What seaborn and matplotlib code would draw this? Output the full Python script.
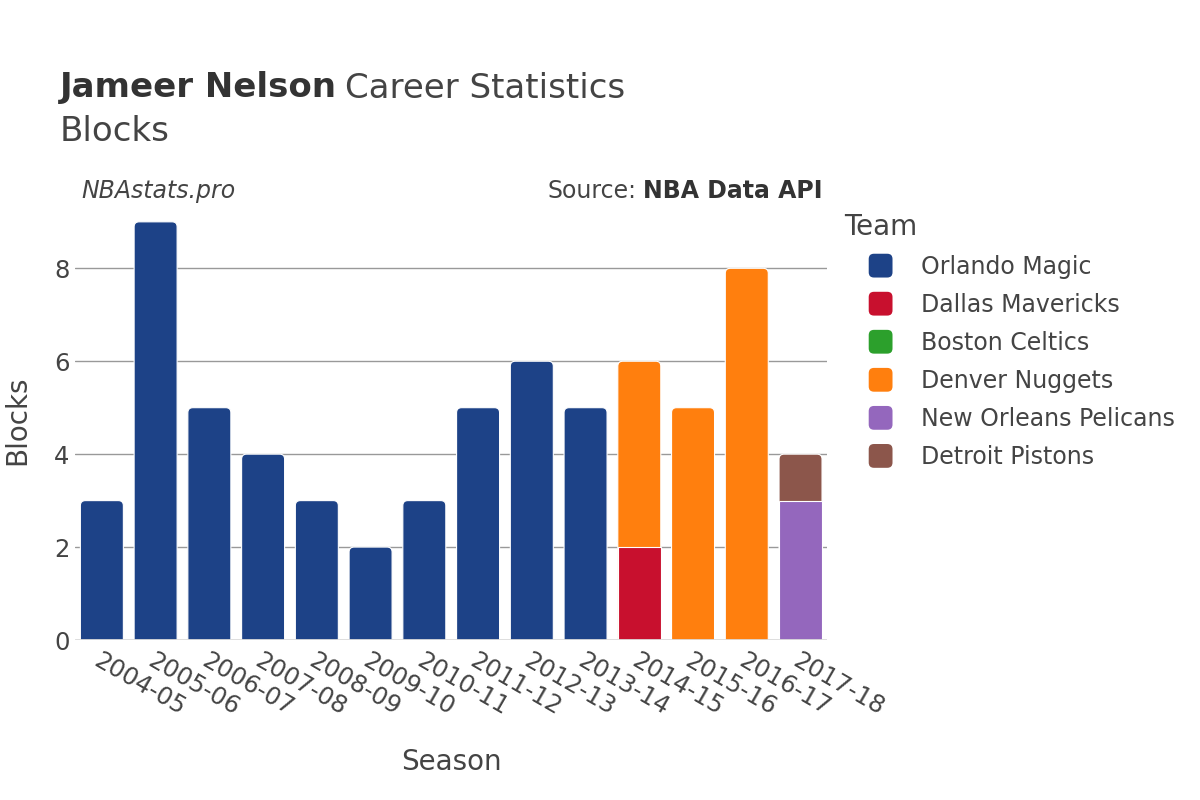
import pandas as pd
import matplotlib.pyplot as plt
import seaborn as sns
from matplotlib.patches import Patch, FancyBboxPatch
from matplotlib.legend_handler import HandlerPatch

seasons = ["2004-05", "2005-06", "2006-07", "2007-08", "2008-09", "2009-10", "2010-11",
           "2011-12", "2012-13", "2013-14", "2014-15", "2015-16", "2016-17", "2017-18"]
teams = ["Orlando Magic", "Dallas Mavericks", "Boston Celtics", "Denver Nuggets",
         "New Orleans Pelicans", "Detroit Pistons"]
team_colors = ["#1d4287", "#c8102e", "#2ca02c", "#ff7f0e", "#9467bd", "#8c564b"]

row_season = ["2004-05", "2005-06", "2006-07", "2007-08", "2008-09", "2009-10", "2010-11",
              "2011-12", "2012-13", "2013-14", "2014-15", "2014-15", "2014-15",
              "2015-16", "2016-17", "2017-18", "2017-18"]
row_team = ["Orlando Magic"] * 10 + ["Dallas Mavericks", "Boston Celtics", "Denver Nuggets",
            "Denver Nuggets", "Denver Nuggets", "New Orleans Pelicans", "Detroit Pistons"]
row_blocks = [3, 9, 5, 4, 3, 2, 3, 5, 6, 5, 2, 0, 4, 5, 8, 3, 1]

df = pd.DataFrame({"season": row_season, "team": row_team, "blocks": row_blocks})
df["team_rank"] = df["team"].map({t: i for i, t in enumerate(teams)})
df = df.sort_values(["season", "team_rank"])
df["top"] = df.groupby("season")["blocks"].cumsum()

sns.set_style("white")
plt.rcParams["font.family"] = ["DejaVu Sans"]
text_color = "#444444"

fig = plt.figure(figsize=(12, 8), dpi=100)
ax = fig.add_axes([0.0625, 0.2, 0.627, 0.55])

# draw the stack from the top segment down so the lower segments paint over
for team, color in reversed(list(zip(teams, team_colors))):
    sub = df[(df["team"] == team) & (df["blocks"] > 0)]
    if sub.empty:
        continue
    sns.barplot(data=sub, x="season", y="top", order=seasons, color=color,
                saturation=1, width=0.8, edgecolor="white", linewidth=0.8,
                errorbar=None, ax=ax, zorder=3)

ax.set_ylim(0, 9.47)
ax.set_xlim(-0.5, len(seasons) - 0.5)

# round the top corners of the highest segment in each stack
tallest = {}
for p in ax.patches:
    key = round(p.get_x() + p.get_width() / 2, 2)
    if key not in tallest or p.get_height() > tallest[key].get_height():
        tallest[key] = p
px_x = 0.627 * 1200 / len(seasons)
px_y = 0.55 * 800 / 9.47
for p in tallest.values():
    r = 5 / px_x
    fb = FancyBboxPatch((p.get_x(), -0.5), p.get_width(), p.get_height() + 0.5,
                        boxstyle=f"round,pad=0,rounding_size={r}",
                        mutation_aspect=px_x / px_y,
                        facecolor=p.get_facecolor(), edgecolor="white", linewidth=0.8)
    p.remove()
    ax.add_patch(fb)
    fb.set_zorder(2.9)

ax.set_yticks([0, 2, 4, 6, 8])
ax.yaxis.grid(True, color="#999999", linewidth=1)
ax.set_axisbelow(True)
ax.axhline(0, color="#dddddd", linewidth=2, zorder=3.5)
for s in ax.spines.values():
    s.set_visible(False)
ax.tick_params(axis="both", length=0, labelsize=17.5, colors=text_color)
ax.tick_params(axis="y", pad=4)
ax.tick_params(axis="x", pad=6)
plt.setp(ax.get_xticklabels(), rotation=-30, ha="left", rotation_mode="anchor")
ax.set_xlabel("Season", fontsize=20, color=text_color, labelpad=20)
ax.set_ylabel("Blocks", fontsize=20, color=text_color, labelpad=16)

fig.canvas.draw()
renderer = fig.canvas.get_renderer()


def right_of(t, gap_px=0):
    bb = t.get_window_extent(renderer)
    return (bb.x1 + gap_px) / fig.bbox.width


t1 = fig.text(0.05, 0.89, "Jameer Nelson", fontsize=24.5, fontweight="bold", color="#333333", va="center")
fig.text(right_of(t1, 8), 0.89, "Career Statistics", fontsize=24.5, color=text_color, va="center")
fig.text(0.05, 0.836, "Blocks", fontsize=24.5, color=text_color, va="center")
fig.text(0.068, 0.761, "NBAstats.pro", fontsize=17, style="italic", color=text_color, va="center")
s1 = fig.text(0.685, 0.761, "NBA Data API", fontsize=17, fontweight="bold", color="#333333",
              va="center", ha="right")
bb = s1.get_window_extent(renderer)
fig.text((bb.x0 - 6) / fig.bbox.width, 0.761, "Source:", fontsize=17, color=text_color,
         va="center", ha="right")


class RoundHandler(HandlerPatch):
    def create_artists(self, legend, orig_handle, xdescent, ydescent, width, height, fontsize, trans):
        size = height * 1.05
        box = FancyBboxPatch((-xdescent + (width - size) / 2, -ydescent + (height - size) / 2),
                             size, size, boxstyle=f"round,pad=0,rounding_size={size * 0.22}",
                             facecolor=orig_handle.get_facecolor(), edgecolor="none",
                             transform=trans)
        return [box]


handles = [Patch(facecolor=c, edgecolor=c, label=t) for t, c in zip(teams, team_colors)]
leg = fig.legend(handles=handles, title="Team", loc="upper left", bbox_to_anchor=(0.694, 0.749),
                 frameon=False, fontsize=17, title_fontsize=20, handlelength=3.05,
                 handleheight=1.1, handletextpad=0.17, labelspacing=0.58, borderpad=0,
                 handler_map={Patch: RoundHandler()})
leg._legend_box.align = "left"
for t in leg.get_texts():
    t.set_color(text_color)
leg.get_title().set_color(text_color)

fig.savefig("out.png", dpi=100)
